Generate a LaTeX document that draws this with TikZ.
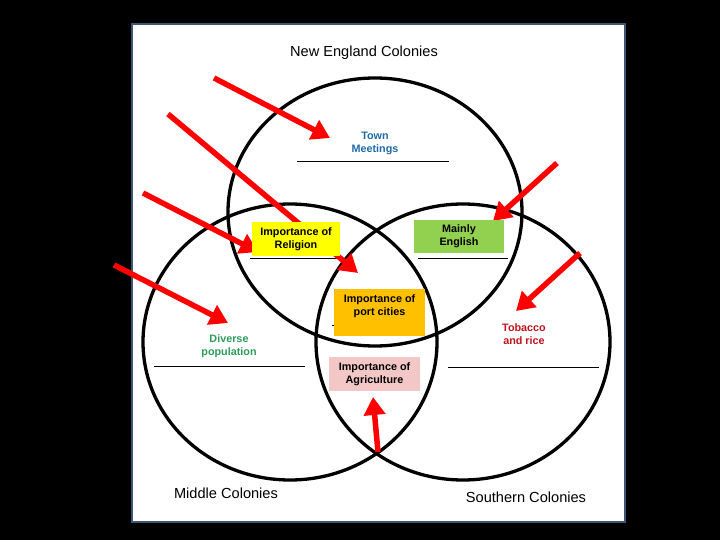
\documentclass[tikz,border=0pt]{standalone}
\usepackage{fontspec}
\setmainfont{Liberation Sans}
\usetikzlibrary{arrows.meta,shapes.geometric,positioning}
\definecolor{vennFrame}{HTML}{3E5573}
\definecolor{vennRed}{HTML}{FF0000}
\definecolor{vennBlue}{HTML}{1F6BA8}
\definecolor{vennGreen}{HTML}{2E9D5C}
\definecolor{vennDarkRed}{HTML}{C0141E}
\definecolor{vennYellow}{HTML}{FFFF00}
\definecolor{vennLime}{HTML}{92D050}
\definecolor{vennOrange}{HTML}{FFC000}
\definecolor{vennPink}{HTML}{F4C7C7}
\tikzset{
  ring/.style={ellipse, draw=black, line width=3.3pt, minimum width=294pt,
    minimum height=272pt, inner sep=0pt},
  hint arrow/.style={-{Triangle[length=18pt,width=21pt]}, line width=5.5pt,
    draw=vennRed},
  set title/.style={font=\fontsize{14.6}{16}\selectfont, inner sep=0pt},
  small label/.style={font=\fontsize{10.8}{13}\selectfont\bfseries,
    align=center, inner sep=0pt},
  label box/.style={small label, minimum width=90pt, minimum height=34pt},
  answer line/.style={line width=1pt, draw=black}
}
\begin{document}
\begin{tikzpicture}[x=1pt,y=-1pt]
  \useasboundingbox[fill=black] (0,0) rectangle (720,540);
  \draw[vennFrame, line width=2.5pt, fill=white] (132,24) rectangle (625,522);
  % the three colonies
  \node[ring, minimum height=268pt] (neweng) at (375,212) {};
  \node[ring, minimum height=276pt] (middle) at (290,342) {};
  \node[ring, minimum height=276pt] (south) at (463,342) {};
  \node[set title] (netitle) at (364,53) {New England Colonies};
  \node[set title] (mctitle) at (226,493) {Middle Colonies};
  \node[set title] (sctitle) at (526,497) {Southern Colonies};
  % blanks
  \draw[answer line] (297,162) -- (449,162);
  \draw[answer line] (250,258) -- (340,258);
  \draw[answer line] (418,258) -- (508,258);
  \draw[answer line] (154,366) -- (305,366);
  \draw[answer line] (448,367) -- (599,367);
  \draw[answer line] (332,325) -- (420,325);
  % hint arrows
  \coordinate (a1) at (214,78);   \coordinate (b1) at (330,138);
  \coordinate (a2) at (168,114);  \coordinate (b2) at (358,273);
  \coordinate (a3) at (143,193);  \coordinate (b3) at (258,252);
  \coordinate (a4) at (114,265);  \coordinate (b4) at (228,323);
  \coordinate (a5) at (557,163);  \coordinate (b5) at (493,221);
  \coordinate (a6) at (580,253);  \coordinate (b6) at (516,311);
  \coordinate (a7) at (378,452);  \coordinate (b7) at (373,397);
  \foreach \i in {1,...,7}
    \draw[hint arrow] (a\i) -- (b\i);
  % answers
  \node[small label, text=vennBlue] (town) at (375,143) {Town\\Meetings};
  \node[label box, fill=vennYellow, minimum width=88pt] (religion) at (296,239)
    {Importance of\\Religion};
  \node[label box, fill=vennLime, minimum height=33pt] (english) at (459,236.5)
    {Mainly\\English};
  \node[label box, fill=vennOrange, minimum width=91pt, minimum height=47pt]
    (port) at (379.5,312.5) {};
  \node[small label, below=6pt of port.north] (porttext)
    {Importance of\\port cities};
  \node[small label, text=vennGreen] (diverse) at (229,346)
    {Diverse\\population};
  \node[small label, text=vennDarkRed] (tobacco) at (524,334)
    {Tobacco\\and rice};
  \node[label box, fill=vennPink, minimum width=91pt] (agri) at (374.5,374)
    {Importance of\\Agriculture};
\end{tikzpicture}
\end{document}
